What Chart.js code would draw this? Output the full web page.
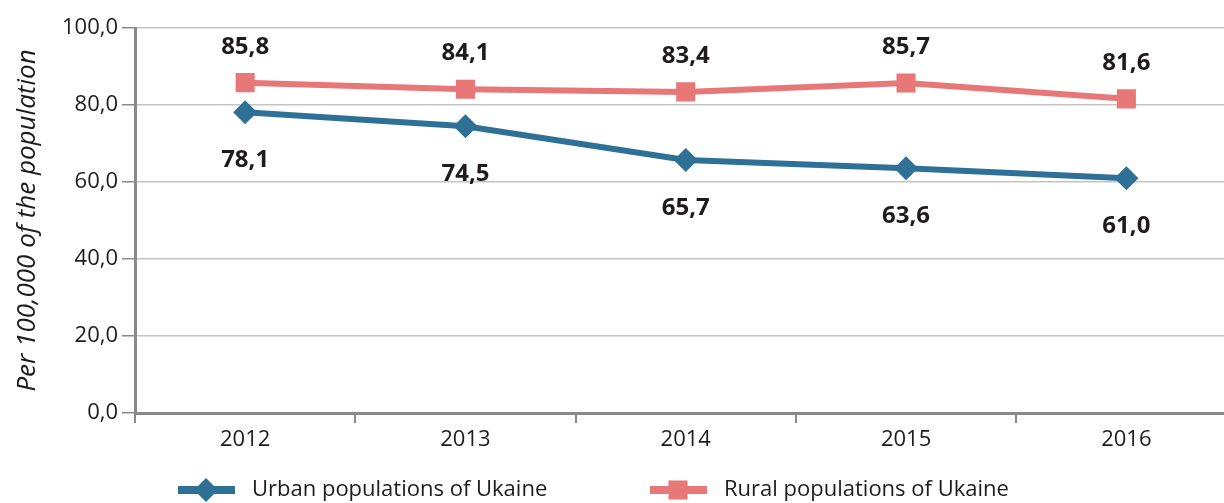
<!DOCTYPE html>
<html>
<head>
<meta charset="utf-8">
<script src="https://cdn.jsdelivr.net/npm/chart.js@4"></script>
<style>
  html, body { margin: 0; padding: 0; background: #fff; overflow: hidden; }
  #wrap { width: 1250px; height: 503px; }
</style>
</head>
<body>
<div id="wrap"><canvas id="chart" width="1250" height="503"></canvas></div>
<script>
// dados do gráfico
const anos = ['2012', '2013', '2014', '2015', '2016']
const urbana = [78.1, 74.5, 65.7, 63.6, 61.0]
const rural = [85.8, 84.1, 83.4, 85.7, 81.6]
const nomeUrbana = 'Urban populations of Ukaine'
const nomeRural = 'Rural populations of Ukaine'
const tituloY = 'Per 100,000 of the population'

const corUrbana = '#2f7097'
const corRural = '#e87777'
const corTexto = '#1f1b1c'
const fonte = '"Open Sans", "Noto Sans", sans-serif'

// formata número com vírgula decimal
const virgula = v => Number(v).toFixed(1).replace('.', ',')

// rótulos de valor: rural acima, urbana abaixo
const rotulos = {
  id: 'rotulos',
  afterDatasetsDraw(chart) {
    const ctx = chart.ctx
    ctx.save()
    ctx.font = 'bold 24px ' + fonte
    ctx.fillStyle = corTexto
    ctx.textAlign = 'center'
    ctx.textBaseline = 'middle'
    chart.data.datasets.forEach((ds, i) => {
      const meta = chart.getDatasetMeta(i)
      meta.data.forEach((pt, j) => {
        const dy = ds.acima ? -36 : 48
        ctx.fillText(virgula(ds.data[j]), pt.x, pt.y + dy)
      })
    })
    ctx.restore()
  }
}

// legenda desenhada à mão (linha + marcador)
const legenda = {
  id: 'legenda',
  afterDraw(chart) {
    const ctx = chart.ctx
    const y = 490
    const itens = [{ x: 178, ds: chart.data.datasets[0] }, { x: 650, ds: chart.data.datasets[1] }]
    ctx.save()
    itens.forEach(it => {
      const ds = it.ds
      ctx.strokeStyle = ds.borderColor
      ctx.lineWidth = 8
      ctx.beginPath()
      ctx.moveTo(it.x, y)
      ctx.lineTo(it.x + 57, y)
      ctx.stroke()
      ctx.fillStyle = ds.borderColor
      Chart.helpers.drawPoint(ctx, { pointStyle: ds.pointStyle, radius: ds.pointRadius, borderWidth: 0 }, it.x + 28, y)
      ctx.font = '22px ' + fonte
      ctx.fillStyle = corTexto
      ctx.textAlign = 'left'
      ctx.textBaseline = 'middle'
      ctx.fillText(ds.label, it.x + 74, y)
    })
    ctx.restore()
  }
}

new Chart('chart', {
  type: 'line',
  data: {
    labels: anos,
    datasets: [
      {
        label: nomeUrbana,
        data: urbana,
        borderColor: corUrbana,
        backgroundColor: corUrbana,
        borderWidth: 6,
        pointStyle: 'rectRot',
        pointRadius: 12,
        pointHoverRadius: 12,
        pointBorderWidth: 0,
        acima: false
      },
      {
        label: nomeRural,
        data: rural,
        borderColor: corRural,
        backgroundColor: corRural,
        borderWidth: 6,
        pointStyle: 'rect',
        pointRadius: 13.5,
        pointHoverRadius: 13.5,
        pointBorderWidth: 0,
        acima: true
      }
    ]
  },
  options: {
    responsive: false,
    animation: false,
    layout: { padding: { top: 28, right: 6, bottom: 40, left: 0 } },
    plugins: {
      legend: { display: false },
      tooltip: { enabled: false }
    },
    scales: {
      x: {
        offset: true,
        afterFit: s => { s.height = 50 },
        border: { color: '#8a8a8a', width: 3 },
        grid: { offset: true, drawOnChartArea: false, tickLength: 10, tickColor: '#8a8a8a', lineWidth: 2 },
        ticks: { font: { family: fonte, size: 22 }, color: corTexto, padding: 4 }
      },
      y: {
        min: 0,
        max: 100,
        afterFit: s => { s.width = 135 },
        border: { color: '#8a8a8a', width: 3 },
        grid: { color: '#c4c4c4', lineWidth: 1.5, tickLength: 13, tickColor: '#8a8a8a' },
        ticks: {
          stepSize: 20,
          padding: 4,
          font: { family: fonte, size: 22 },
          color: corTexto,
          callback: v => virgula(v)
        },
        title: {
          display: true,
          text: tituloY,
          color: corTexto,
          font: { family: fonte, size: 26, style: 'italic' },
          padding: { top: 12, bottom: 0 }
        }
      }
    }
  },
  plugins: [rotulos, legenda]
})
</script>
</body>
</html>
